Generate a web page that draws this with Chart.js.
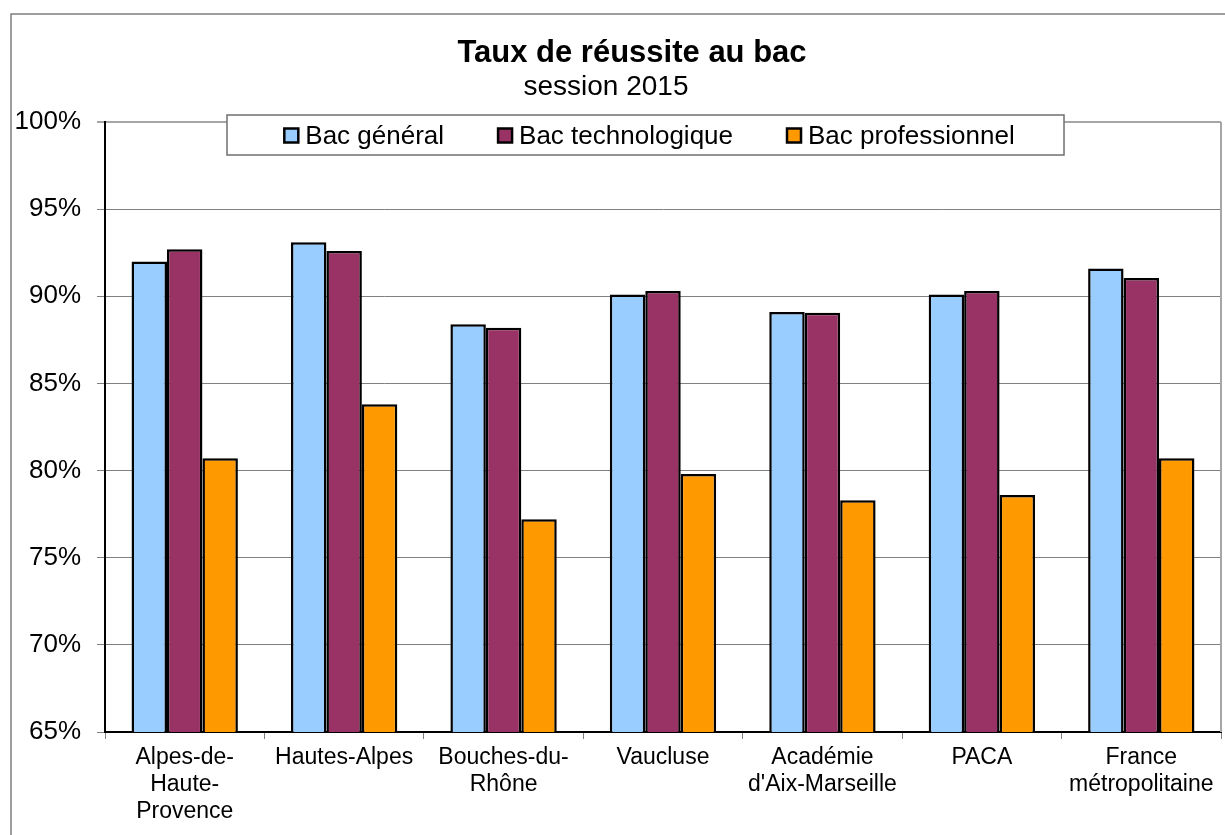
<!DOCTYPE html>
<html lang="fr">
<head>
<meta charset="utf-8">
<title>Taux de réussite au bac - session 2015</title>
<script src="https://cdn.jsdelivr.net/npm/chart.js@4/dist/chart.umd.min.js"></script>
<style>
  html, body { margin: 0; padding: 0; background: #fff; }
  #wrap { width: 1225px; height: 835px; }
</style>
</head>
<body>
<div id="wrap"><canvas id="bacChart" width="1225" height="835"></canvas></div>
<script>
// Données
const categories = [
    ['Alpes-de-', 'Haute-', 'Provence'],
    'Hautes-Alpes',
    ['Bouches-du-', 'Rhône'],
    'Vaucluse',
    ['Académie', "d'Aix-Marseille"],
    'PACA',
    ['France', 'métropolitaine']
];
const seriesNames = ['Bac général', 'Bac technologique', 'Bac professionnel'];
const bacGeneral = [92.0, 93.1, 88.4, 90.1, 89.1, 90.1, 91.6];
const bacTechno = [92.7, 92.6, 88.2, 90.3, 89.05, 90.3, 91.05];
const bacPro = [80.7, 83.8, 77.2, 79.8, 78.3, 78.6, 80.7];
const yTicks = [65, 70, 75, 80, 85, 90, 95, 100];

const titre = 'Taux de réussite au bac';
const sousTitre = 'session 2015';

Chart.defaults.font.family = "'Liberation Sans', Arial, sans-serif";
Chart.defaults.color = '#000';

// cadre + titre dessinés à la main
const cadrePlugin = {
    id: 'cadre',
    beforeDraw(chart) {
        const ctx = chart.ctx;
        ctx.save();
        ctx.fillStyle = '#fff';
        ctx.fillRect(0, 0, chart.width, chart.height);
        ctx.strokeStyle = '#7f7f7f';
        ctx.lineWidth = 1.5;
        ctx.beginPath();
        ctx.moveTo(11, chart.height);
        ctx.lineTo(11, 14);
        ctx.lineTo(chart.width, 14);
        ctx.stroke();

        ctx.fillStyle = '#000';
        ctx.textAlign = 'center';
        ctx.textBaseline = 'alphabetic';
        ctx.font = "bold 31px 'Liberation Sans', Arial, sans-serif";
        ctx.fillText(titre, 632, 62);
        ctx.font = "28px 'Liberation Sans', Arial, sans-serif";
        ctx.fillText(sousTitre, 606, 95);
        ctx.restore();
    }
};

// légende encadrée, posée sur le haut de la zone de tracé
const legendePlugin = {
    id: 'legende',
    afterDraw(chart) {
        const ctx = chart.ctx;
        const box = {left: 227, top: 115, right: 1064, bottom: 155};
        ctx.save();
        ctx.fillStyle = '#fff';
        ctx.fillRect(box.left, box.top, box.right - box.left, box.bottom - box.top);
        ctx.strokeStyle = '#6f6f6f';
        ctx.lineWidth = 1.5;
        ctx.strokeRect(box.left, box.top, box.right - box.left, box.bottom - box.top);

        ctx.font = "26px 'Liberation Sans', Arial, sans-serif";
        const sw = 14, gapTxt = 7, gapItem = 54;
        const ds = chart.data.datasets;
        const widths = ds.map(d => ctx.measureText(d.label).width);
        let total = 0;
        widths.forEach((w, i) => { total += sw + gapTxt + w + (i < widths.length - 1 ? gapItem : 0); });
        let x = 649.5 - total / 2;
        const midY = 135.5;
        ds.forEach((d, i) => {
            ctx.fillStyle = d.backgroundColor;
            ctx.fillRect(x, midY - sw / 2, sw, sw);
            ctx.strokeStyle = '#000';
            ctx.lineWidth = 2.5;
            ctx.strokeRect(x, midY - sw / 2, sw, sw);
            ctx.fillStyle = '#000';
            ctx.textAlign = 'left';
            ctx.textBaseline = 'middle';
            ctx.fillText(d.label, x + sw + gapTxt, midY + 1);
            x += sw + gapTxt + widths[i] + gapItem;
        });
        ctx.restore();
    }
};

new Chart(document.getElementById('bacChart'), {
    type: 'bar',
    data: {
        labels: categories,
        datasets: [
            {label: seriesNames[0], data: bacGeneral, backgroundColor: '#99ccff'},
            {label: seriesNames[1], data: bacTechno, backgroundColor: '#993366'},
            {label: seriesNames[2], data: bacPro, backgroundColor: '#ff9900'}
        ].map(d => Object.assign(d, {
            borderColor: '#000',
            borderWidth: 2.5,
            borderSkipped: false,
            categoryPercentage: 0.667,
            barPercentage: 1.0
        }))
    },
    options: {
        responsive: false,
        animation: false,
        devicePixelRatio: 1,
        layout: {padding: {left: 0, right: 4, top: 122, bottom: 0}},
        plugins: {
            legend: {display: false},
            title: {display: false},
            tooltip: {enabled: false}
        },
        scales: {
            x: {
                afterFit: scale => { scale.height = 103; },
                grid: {
                    drawOnChartArea: false,
                    drawTicks: true,
                    tickLength: 7,
                    color: '#808080',
                    offset: true
                },
                border: {color: '#000', width: 2},
                ticks: {
                    padding: 5,
                    maxRotation: 0,
                    autoSkip: false,
                    font: {size: 23, lineHeight: 27 / 23}
                }
            },
            y: {
                min: yTicks[0],
                max: yTicks[yTicks.length - 1],
                afterFit: scale => { scale.width = 105; },
                afterBuildTicks: scale => { scale.ticks = yTicks.map(v => ({value: v})); },
                grid: {
                    tickLength: 8,
                    color: ctx => ctx.tick && ctx.tick.value === 100 ? '#a6a6a6' : '#808080',
                    lineWidth: ctx => ctx.tick && ctx.tick.value === 100 ? 2 : 1
                },
                border: {color: '#000', width: 2},
                ticks: {
                    padding: 16,
                    font: {size: 26},
                    callback: v => v + '%'
                }
            }
        }
    },
    plugins: [cadrePlugin, legendePlugin, {
        // bord droit de la zone de tracé (gris)
        id: 'bordDroit',
        beforeDatasetsDraw(chart) {
            const a = chart.chartArea, ctx = chart.ctx;
            ctx.save();
            ctx.strokeStyle = '#a6a6a6';
            ctx.lineWidth = 2;
            ctx.beginPath();
            ctx.moveTo(a.right, a.top);
            ctx.lineTo(a.right, a.bottom);
            ctx.stroke();
            ctx.restore();
        }
    }]
});
</script>
</body>
</html>
